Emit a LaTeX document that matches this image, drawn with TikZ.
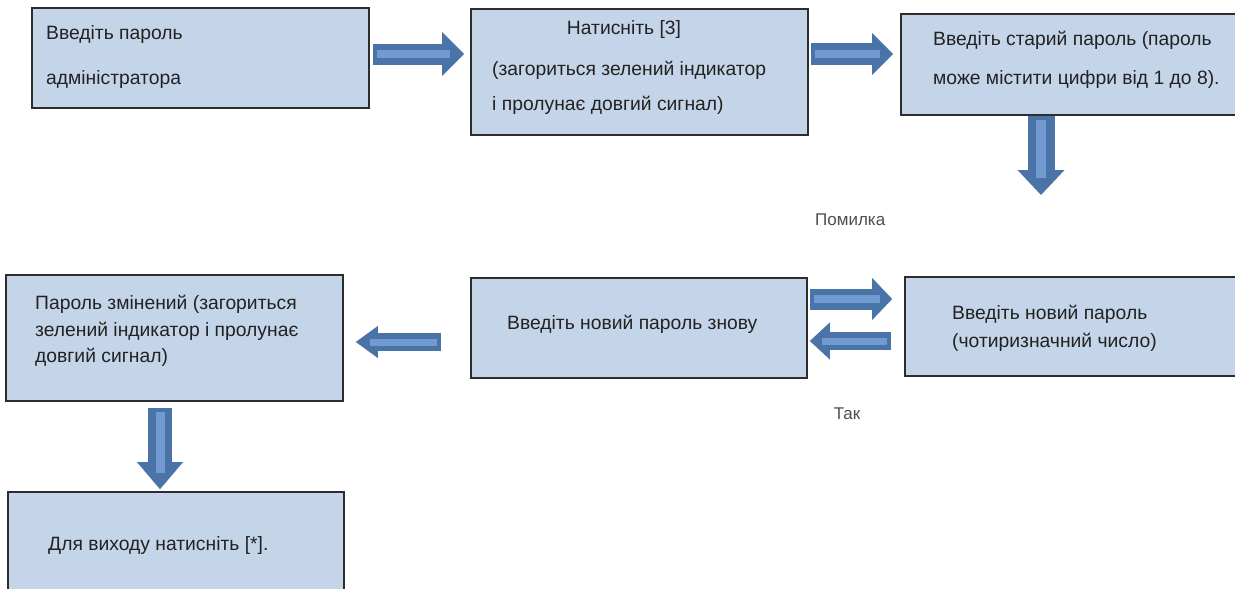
\documentclass[tikz,border=0pt]{standalone}
\usepackage{fontspec}
\setmainfont{Liberation Sans}
\usetikzlibrary{arrows.meta}
\definecolor{boxfill}{RGB}{197,213,233}
\definecolor{boxline}{RGB}{45,45,45}
\definecolor{arrdark}{RGB}{74,116,168}
\definecolor{arrlight}{RGB}{112,154,208}
\definecolor{txt}{RGB}{34,34,34}
\tikzset{
  box/.style={draw=boxline, line width=1.6pt, fill=boxfill, rectangle, inner sep=0pt},
  tl/.style={anchor=west, inner sep=0pt, text=txt, font=\fontsize{19.3}{22}\selectfont, text height=0.75em, text depth=0.2em},
  tc/.style={tl, anchor=center},
  lbl/.style={inner sep=0pt, text=txt!80, font=\fontsize{17}{20}\selectfont, text height=0.75em, text depth=0.2em},
  blk/.style n args={3}{draw=arrdark, line width=#1pt, -{Triangle[length=#3pt, width=#2pt, line width=0pt]}},
  strp/.style={draw=arrlight, line width=#1pt},
}
\begin{document}
\begin{tikzpicture}[x=1pt,y=-1pt]
\clip (0,0) rectangle (1235,589);
\fill[white] (0,0) rectangle (1235,589);
% boxes
\node[box, minimum width=337pt, minimum height=100pt] (b1) at (200.5,58) {};
\node[box, minimum width=337pt, minimum height=126pt] (b2) at (639.5,72) {};
\node[box, minimum width=339pt, minimum height=101pt] (b3) at (1070.5,64.5) {};
\node[box, minimum width=337pt, minimum height=126pt] (b4) at (174.5,338) {};
\node[box, minimum width=336pt, minimum height=100pt] (b5) at (639,328) {};
\node[box, minimum width=335pt, minimum height=99pt] (b6) at (1072.5,326.5) {};
\node[box, minimum width=336pt, minimum height=103pt] (b7) at (176,543.5) {};
% texts
\node[tl] (t1a) at (46,37) {Введіть пароль};
\node[tl] (t1b) at (46,82) {адміністратора};
\node[tc] (t2a) at (624,32) {Натисніть [3]};
\node[tl] (t2b) at (492,73) {(загориться зелений індикатор};
\node[tl] (t2c) at (492,108) {і пролунає довгий сигнал)};
\node[tl] (t3a) at (933,43) {Введіть старий пароль (пароль};
\node[tl] (t3b) at (933,82) {може містити цифри від 1 до 8).};
\node[tl] (t4a) at (35,307) {Пароль змінений (загориться};
\node[tl] (t4b) at (35,334) {зелений індикатор і пролунає};
\node[tl] (t4c) at (35,360) {довгий сигнал)};
\node[tl] (t5a) at (507,327) {Введіть новий пароль знову};
\node[tl] (t6a) at (952,317) {Введіть новий пароль};
\node[tl] (t6b) at (952,345) {(чотиризначний число)};
\node[tl] (t7a) at (48,548) {Для виходу натисніть [*].};
\node[lbl, anchor=west] (err) at (815,223) {Помилка};
\node[lbl] (yes) at (847,417) {Так};
% free ends
\coordinate (a3end) at (1041,195);
% arrows
\draw[blk={21}{44}{22}, shorten <=3pt, shorten >=6pt] (b1.east |- 0,54) -- (b2.west |- 0,54);
\draw[strp=8, shorten <=7pt, shorten >=20pt] (b1.east |- 0,54) -- (b2.west |- 0,54);
\draw[blk={22}{42}{21}, shorten <=2pt, shorten >=7pt] (b2.east |- 0,54) -- (b3.west |- 0,54);
\draw[strp=8, shorten <=6pt, shorten >=20pt] (b2.east |- 0,54) -- (b3.west |- 0,54);
\draw[blk={27}{47}{25}] (b3.south -| a3end) -- (a3end);
\draw[strp=10, shorten <=4pt, shorten >=17pt] (b3.south -| a3end) -- (a3end);
\draw[blk={21}{42}{20}, shorten <=2pt, shorten >=12pt] (b5.east |- 0,299) -- (b6.west |- 0,299);
\draw[strp=8, shorten <=6pt, shorten >=24pt] (b5.east |- 0,299) -- (b6.west |- 0,299);
\draw[blk={18}{37}{20}, shorten <=13pt, shorten >=2pt] (b6.west |- 0,341) -- (b5.east |- 0,341);
\draw[strp=7, shorten <=17pt, shorten >=14pt] (b6.west |- 0,341) -- (b5.east |- 0,341);
\draw[blk={18}{32}{22}, shorten <=29pt, shorten >=12pt] (b5.west |- 0,342) -- (b4.east |- 0,342);
\draw[strp=7, shorten <=33pt, shorten >=26pt] (b5.west |- 0,342) -- (b4.east |- 0,342);
\draw[blk={24}{46}{27}, shorten <=6pt, shorten >=2pt] (b4.south -| 160,0) -- (b7.north -| 160,0);
\draw[strp=9, shorten <=10pt, shorten >=18pt] (b4.south -| 160,0) -- (b7.north -| 160,0);
\end{tikzpicture}
\end{document}
